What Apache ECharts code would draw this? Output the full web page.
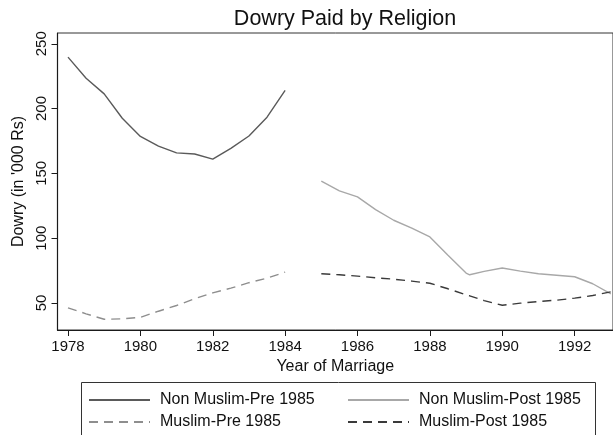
<!DOCTYPE html>
<html>
<head>
<meta charset="utf-8">
<script src="https://cdn.jsdelivr.net/npm/echarts@6/dist/echarts.min.js"></script>
<style>
  html, body { margin: 0; padding: 0; background: #fff; }
  #chart { width: 613px; height: 435px; }
</style>
</head>
<body>
<div id="chart"></div>
<script>
// Smoothed dowry by year of marriage, sampled every half year ('000 Rs)
const yearsPre = [1978, 1978.5, 1979, 1979.5, 1980, 1980.5, 1981, 1981.5, 1982, 1982.5, 1983, 1983.5, 1984];
const yearsPost = [1985, 1985.5, 1986, 1986.5, 1987, 1987.5, 1988, 1988.5, 1989, 1989.1, 1989.5, 1990, 1990.5, 1991, 1991.5, 1992, 1992.5, 1993];

const nonMuslimPre = [239.7, 223.4, 211.3, 192.5, 178.5, 171, 165.8, 164.9, 161, 169.3, 178.8, 193.3, 214];
const muslimPre = [46.2, 41.6, 37.4, 37.7, 38.9, 43.6, 48, 53.2, 57.8, 61.4, 65.6, 69.1, 73.8];
const nonMuslimPost = [144, 136.5, 131.8, 122, 113.8, 107.8, 100.9, 86.7, 73, 71.7, 74.3, 76.9, 74.5, 72.5, 71.4, 70.2, 64.8, 57];
const muslimPost = [72.5, 71.7, 70.7, 69.4, 68.3, 66.8, 65.2, 60.9, 56.3, 55.5, 51.8, 48.2, 49.8, 51.1, 52.1, 53.7, 55.7, 58.6];

const xTicks = [1978, 1980, 1982, 1984, 1986, 1988, 1990, 1992];
const yTicks = [50, 100, 150, 200, 250];

const seriesNames = ['Non Muslim-Pre 1985', 'Non Muslim-Post 1985', 'Muslim-Pre 1985', 'Muslim-Post 1985'];

function pairs(xs, ys) {
  return xs.map((x, i) => [x, ys[i]]);
}

const chart = echarts.init(document.getElementById('chart'), null, { renderer: 'canvas' });

const font = 'Liberation Sans, Arial, Helvetica, sans-serif';
const axisColor = '#1a1a1a';

function lineSeries(name, xs, ys, color, type) {
  return {
    name: name,
    type: 'line',
    data: pairs(xs, ys),
    symbol: 'none',
    smooth: false,
    animation: false,
    lineStyle: { color: color, width: 1.4, type: type },
    itemStyle: { color: color }
  };
}

// one legend entry per block, laid out as a 2x2 grid inside the framed box
function legendEntry(name, left, top) {
  return {
    data: [name],
    left: left,
    top: top,
    padding: 0,
    itemWidth: 61,
    itemHeight: 12,
    itemGap: 0,
    textStyle: { fontFamily: font, fontSize: 16, color: '#111', padding: [0, 0, 0, 5] },
    itemStyle: { opacity: 0 },
    selectedMode: false
  };
}

chart.setOption({
  backgroundColor: '#fff',
  animation: false,
  title: {
    text: 'Dowry Paid by Religion',
    left: 340,
    textAlign: 'center',
    top: 3,
    textStyle: { fontFamily: font, fontSize: 21.5, fontWeight: 'normal', color: '#111' }
  },
  grid: {
    left: 57.5,
    right: -1,
    top: 33,
    bottom: 105,
    show: true,
    borderColor: '#333',
    borderWidth: 1,
    containLabel: false
  },
  xAxis: {
    type: 'value',
    min: 1977.71,
    max: 1993.06,
    name: 'Year of Marriage',
    nameLocation: 'middle',
    nameGap: 26,
    nameTextStyle: { fontFamily: font, fontSize: 16, color: '#111' },
    axisLine: { show: true, lineStyle: { color: axisColor, width: 1.2 } },
    axisTick: { show: true, length: 6, customValues: xTicks, lineStyle: { color: axisColor } },
    axisLabel: {
      customValues: xTicks,
      formatter: v => String(v),
      fontFamily: font, fontSize: 15, color: '#111', margin: 9
    },
    splitLine: { show: false }
  },
  yAxis: {
    type: 'value',
    min: 29.1,
    max: 258.3,
    name: "Dowry (in '000 Rs)",
    nameLocation: 'middle',
    nameRotate: 90,
    nameGap: 27,
    nameTextStyle: { fontFamily: font, fontSize: 16, color: '#111' },
    axisLine: { show: true, lineStyle: { color: axisColor, width: 1.2 } },
    axisTick: { show: true, length: 6, customValues: yTicks, lineStyle: { color: axisColor } },
    axisLabel: {
      customValues: yTicks,
      formatter: v => String(v),
      rotate: 90, fontFamily: font, fontSize: 15, color: '#111', margin: 8
    },
    splitLine: { show: false }
  },
  legend: [
    legendEntry(seriesNames[0], 88, 392),
    legendEntry(seriesNames[2], 88, 414),
    legendEntry(seriesNames[1], 347, 392),
    legendEntry(seriesNames[3], 347, 414)
  ],
  graphic: [
    {
      type: 'rect',
      shape: { x: 81.5, y: 382.5, width: 514, height: 80 },
      style: { fill: null, stroke: '#333', lineWidth: 1 },
      silent: true,
      z: -1
    }
  ],
  series: [
    lineSeries(seriesNames[0], yearsPre, nonMuslimPre, '#5a5a5a', 'solid'),
    lineSeries(seriesNames[1], yearsPost, nonMuslimPost, '#a8a8a8', 'solid'),
    lineSeries(seriesNames[2], yearsPre, muslimPre, '#8e8e8e', [9, 6]),
    lineSeries(seriesNames[3], yearsPost, muslimPost, '#3a3a3a', [9, 6])
  ]
});
</script>
</body>
</html>
